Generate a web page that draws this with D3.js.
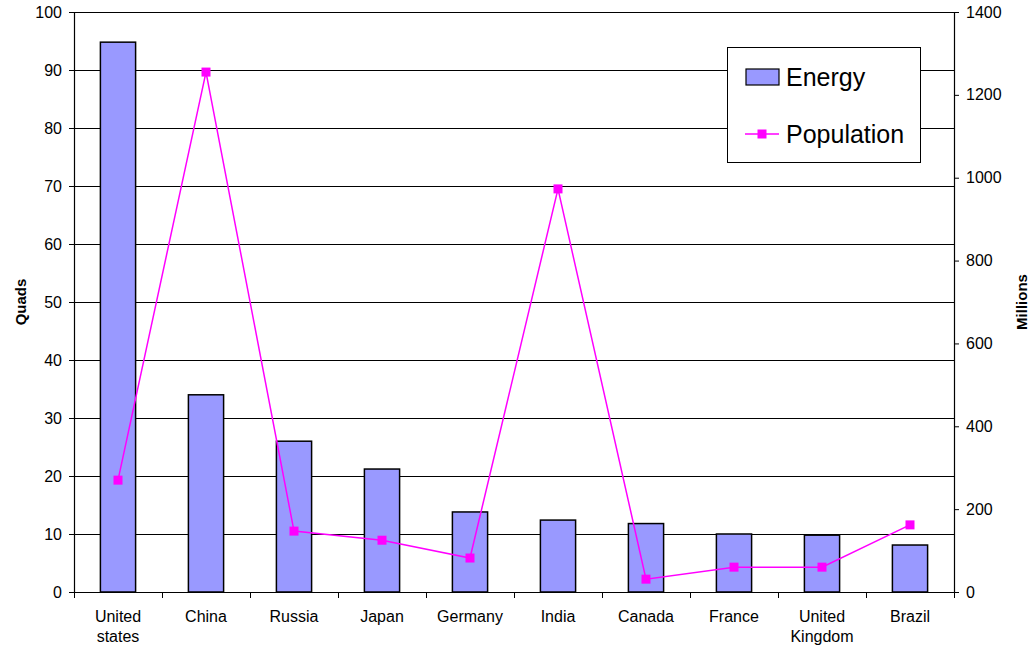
<!DOCTYPE html>
<html>
<head>
<meta charset="utf-8">
<script src="https://cdn.jsdelivr.net/npm/d3@7"></script>
<style>
  html, body { margin: 0; padding: 0; background: #fff; }
  svg { display: block; font-family: "Liberation Sans", Arial, sans-serif; }
</style>
</head>
<body>
<svg id="chart" width="1029" height="647"></svg>
<script>
// Energy consumption (quads) and population (millions) by country
const countries = ["United states", "China", "Russia", "Japan", "Germany", "India", "Canada", "France", "United Kingdom", "Brazil"];
const countryLines = [["United", "states"], ["China"], ["Russia"], ["Japan"], ["Germany"], ["India"], ["Canada"], ["France"], ["United", "Kingdom"], ["Brazil"]];
const energy = [94.8, 34.0, 26.0, 21.2, 13.8, 12.4, 11.8, 10.0, 9.8, 8.1];
const population = [270, 1255, 147, 125, 82, 973, 31, 60, 60, 162];
const leftTicks = [0, 10, 20, 30, 40, 50, 60, 70, 80, 90, 100];
const rightTicks = [0, 200, 400, 600, 800, 1000, 1200, 1400];

const svg = d3.select("#chart");
const plotL = 74, plotR = 954, plotT = 12, plotB = 592;

const x = d3.scaleBand().domain(countries).range([plotL, plotR]).paddingInner(0.6).paddingOuter(0.3);
const xc = d3.scaleBand().domain(countries).range([plotL, plotR]);
const yL = d3.scaleLinear().domain([0, 100]).range([plotB, plotT]);
const yR = d3.scaleLinear().domain([0, 1400]).range([plotB, plotT]);

// horizontal gridlines
svg.append("g").selectAll("line").data(leftTicks.slice(1)).join("line")
  .attr("x1", plotL).attr("x2", plotR)
  .attr("y1", d => Math.round(yL(d)) + 0.5).attr("y2", d => Math.round(yL(d)) + 0.5)
  .attr("stroke", "#000").attr("stroke-width", 1);

// energy bars
svg.append("g").selectAll("rect").data(energy).join("rect")
  .attr("x", (d, i) => x(countries[i]))
  .attr("width", x.bandwidth())
  .attr("y", d => yL(d))
  .attr("height", d => plotB - yL(d))
  .attr("fill", "#9999FF")
  .attr("stroke", "#000").attr("stroke-width", 1.5);

// left axis
const gL = svg.append("g").attr("transform", `translate(${plotL},0)`)
  .call(d3.axisLeft(yL).tickValues(leftTicks).tickFormat(d3.format("d")).tickSize(5).tickPadding(7));
// right axis
const gR = svg.append("g").attr("transform", `translate(${plotR},0)`)
  .call(d3.axisRight(yR).tickValues(rightTicks).tickFormat(d3.format("d")).tickSize(5).tickPadding(7));
[gL, gR].forEach(g => {
  g.select(".domain").attr("stroke", "#000").attr("stroke-width", 1.2);
  g.selectAll(".tick line").attr("stroke", "#000");
  g.selectAll(".tick text").attr("font-size", 16).attr("fill", "#000")
    .attr("font-family", "Liberation Sans, Arial, sans-serif");
});

// bottom axis with ticks between categories
const gB = svg.append("g");
gB.append("line").attr("x1", plotL).attr("x2", plotR)
  .attr("y1", plotB + 0.5).attr("y2", plotB + 0.5)
  .attr("stroke", "#000").attr("stroke-width", 1.2);
gB.selectAll("line.tk").data(countries.concat(["end"])).join("line").attr("class", "tk")
  .attr("x1", (d, i) => Math.round(plotL + i * xc.bandwidth()) + 0.5)
  .attr("x2", (d, i) => Math.round(plotL + i * xc.bandwidth()) + 0.5)
  .attr("y1", plotB).attr("y2", plotB + 6)
  .attr("stroke", "#000");
const labels = gB.selectAll("text").data(countries).join("text")
  .attr("text-anchor", "middle")
  .attr("font-size", 16).attr("fill", "#000");
labels.each(function(d, i) {
  const t = d3.select(this);
  countryLines[i].forEach((ln, j) => {
    t.append("tspan").attr("x", xc(d) + xc.bandwidth() / 2).attr("y", 622 + j * 20).text(ln);
  });
});

// population line and markers
const line = d3.line().x((d, i) => xc(countries[i]) + xc.bandwidth() / 2).y(d => yR(d));
svg.append("path").datum(population).attr("d", line)
  .attr("fill", "none").attr("stroke", "#FF00FF").attr("stroke-width", 1.5);
svg.append("g").selectAll("rect").data(population).join("rect")
  .attr("x", (d, i) => xc(countries[i]) + xc.bandwidth() / 2 - 4.5)
  .attr("y", d => yR(d) - 4.5)
  .attr("width", 9).attr("height", 9)
  .attr("fill", "#FF00FF");

// axis titles
svg.append("text").attr("transform", `translate(26,${(plotT + plotB) / 2}) rotate(-90)`)
  .attr("text-anchor", "middle").attr("font-size", 15).attr("font-weight", "bold").text("Quads");
svg.append("text").attr("transform", `translate(1027,${(plotT + plotB) / 2}) rotate(-90)`)
  .attr("text-anchor", "middle").attr("font-size", 15).attr("font-weight", "bold").text("Millions");

// legend
const lg = svg.append("g");
lg.append("rect").attr("x", 727.5).attr("y", 47.5).attr("width", 193).attr("height", 115)
  .attr("fill", "#fff").attr("stroke", "#000").attr("stroke-width", 1);
lg.append("rect").attr("x", 746).attr("y", 69).attr("width", 33).attr("height", 16)
  .attr("fill", "#9999FF").attr("stroke", "#000").attr("stroke-width", 1.2);
lg.append("text").attr("x", 786).attr("y", 86).attr("font-size", 25).text("Energy");
lg.append("line").attr("x1", 745).attr("x2", 779).attr("y1", 134).attr("y2", 134)
  .attr("stroke", "#FF00FF").attr("stroke-width", 1.5);
lg.append("rect").attr("x", 757.5).attr("y", 129.5).attr("width", 9).attr("height", 9).attr("fill", "#FF00FF");
lg.append("text").attr("x", 786).attr("y", 143).attr("font-size", 25).text("Population");
</script>
</body>
</html>
